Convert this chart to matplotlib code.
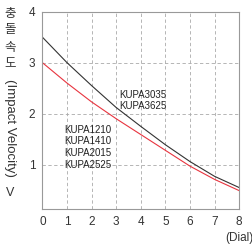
import numpy as np
import matplotlib
matplotlib.use('Agg')
import matplotlib.pyplot as plt

# Dial setting vs impact velocity
dial = [0, 1, 2, 3, 4, 5, 6, 7, 8]
vel_large = [3.5, 3.0, 2.55, 2.12, 1.75, 1.39, 1.06, 0.77, 0.55]   # KUPA3035 / 3625
vel_small = [3.0, 2.6, 2.23, 1.9, 1.59, 1.28, 0.97, 0.71, 0.49]    # KUPA1210 ... 2525
x_ticks = [0, 1, 2, 3, 4, 5, 6, 7, 8]
y_ticks = [1, 2, 3, 4]
large_models = ['KUPA3035', 'KUPA3625']
small_models = ['KUPA1210', 'KUPA1410', 'KUPA2015', 'KUPA2525']
ylabel_ko = ['충', '돌', '속', '도']

plt.rcParams['font.family'] = ['Liberation Sans', 'Noto Sans CJK KR', 'DejaVu Sans']

fig = plt.figure(figsize=(2.52, 2.47), dpi=100)
ax = fig.add_axes([0.168, 0.154, 0.781, 0.799])

ax.plot(dial, vel_large, color='#333333', lw=0.8)
ax.plot(dial, vel_small, color='#e8343f', lw=0.8)

ax.set_xlim(0, 8)
ax.set_ylim(0.13, 4)
ax.set_xticks(x_ticks)
ax.set_yticks(y_ticks)
ax.tick_params(length=0, labelsize=8.5, colors='#333333', pad=5)
ax.grid(True, color='#aaaaaa', ls=(0, (4, 3)), lw=0.6)
for s in ax.spines.values():
    s.set_color('#999999')
    s.set_linewidth(0.8)

ax.text(3.12, 2.26, '\n'.join(large_models), fontsize=7, color='#222222',
        va='center', linespacing=1.2)
ax.text(0.91, 1.34, '\n'.join(small_models), fontsize=7, color='#222222',
        va='center', linespacing=1.2)

fig.text(0.95, 0.036, '(Dial)', fontsize=8.5, color='#333333', ha='center', va='center')

# vertical y label: hangul upright and stacked, latin part turned
for i, ch in enumerate(ylabel_ko):
    fig.text(0.04, 1 - (13 + 17 * i) / 247, ch, fontsize=9, color='#333333',
             ha='center', va='center', family=['Noto Sans CJK KR', 'DejaVu Sans'])
fig.text(0.04, 1 - 127.5 / 247, '(Impact Velocity)', fontsize=9.5, color='#333333',
         rotation=-90, ha='center', va='center')
fig.text(0.04, 1 - 193 / 247, 'V', fontsize=9, color='#333333', ha='center', va='center')

fig.savefig('out.png', dpi=100)
